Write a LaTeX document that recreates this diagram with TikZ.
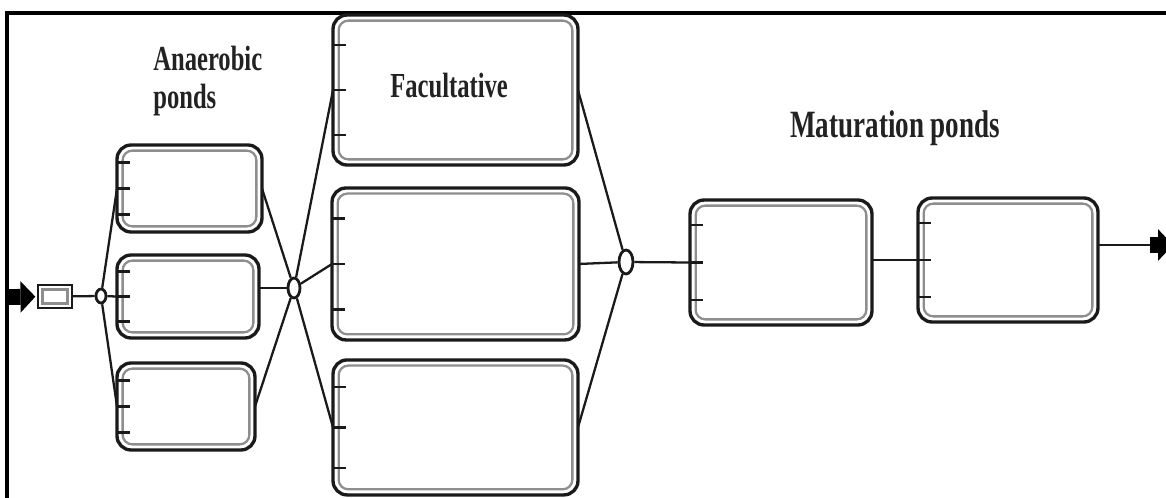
\documentclass[tikz,border=0pt]{standalone}
\usepackage{fontspec}
\setmainfont{Liberation Serif}
\newfontfamily\labelfont[FakeStretch=0.7]{Liberation Serif}
\usetikzlibrary{positioning, arrows.meta, calc, shapes.geometric}
\definecolor{pondBlack}{HTML}{1A1A1A}
\definecolor{pondGrey}{HTML}{8E8E8E}
\definecolor{labelBlack}{HTML}{222222}

\begin{document}
\begin{tikzpicture}[x=0.02cm, y=-0.02cm, node distance=0.46cm,
    pond/.style={draw=pondBlack, line width=1.9pt, rounded corners=8pt,
      inner sep=0pt, outer sep=0pt},
    pondin/.style={draw=pondGrey, line width=1.3pt, rounded corners=5.5pt},
    tickmark/.style={draw=pondBlack, line width=1.3pt},
    junction/.style={ellipse, draw=pondBlack, line width=1.6pt, fill=white, inner sep=0pt},
    pipe/.style={draw=pondBlack, line width=1.3pt},
    flow/.style={draw=black, line width=9pt,
      -{Triangle[length=8.5pt, width=18pt, line width=0pt]}},
    title/.style={font=\labelfont\bfseries\fontsize{20}{21.6}\selectfont,
      text=labelBlack, inner sep=0pt, align=left}]
    \useasboundingbox (0,0) rectangle (1166,497);
    \clip (0,0) rectangle (1166,497);
    \draw[line width=1.8pt] (1180,13) -| (7,510);

    % inlet screen and anaerobic ponds
    \node[draw=pondBlack, line width=1.6pt, minimum width=0.68cm, minimum height=0.46cm,
      inner sep=0pt, outer sep=0pt] (scr) at (55,296.5) {};
    \node[pond, minimum width=2.90cm, minimum height=1.74cm] (a1) at (189.5,188.5) {};
    \node[pond, minimum width=2.84cm, minimum height=1.66cm] (a2) at (188,296.5) {};
    \node[pond, minimum width=2.76cm, minimum height=1.74cm] (a3) at (186,406.5) {};

    % facultative ponds
    \node[pond, minimum width=4.90cm, minimum height=3.00cm] (f1) at (455.5,90) {};
    \node[pond, minimum width=4.94cm, minimum height=3.04cm, below=of f1] (f2) {};
    \node[pond, minimum width=4.90cm, minimum height=2.70cm, below=0.4cm of f2] (f3) {};

    % maturation ponds
    \node[pond, minimum width=3.64cm, minimum height=2.50cm] (m1) at (781,262.5) {};
    \node[pond, minimum width=3.60cm, minimum height=2.48cm] (m2) at (1008,260) {};

    \draw[pondin, rounded corners=0pt] ([shift={(2.6pt,-2.6pt)}]scr.north west) rectangle ([shift={(-2.6pt,2.6pt)}]scr.south east);
    \foreach \p in {a1,a2,a3,f1,f2,f3,m1,m2}{
      \draw[pondin] ([shift={(3.2pt,-3.2pt)}]\p.north west) rectangle ([shift={(-3.2pt,3.2pt)}]\p.south east);
      \foreach \f in {0.2,0.5,0.8}
        \draw[tickmark] ($(\p.north west)!\f!(\p.south west)$) -- ++(0.25cm,0);
    }

    \node[junction, minimum width=0.2cm, minimum height=0.28cm] (j1) at (101,296) {};
    \node[junction, minimum width=0.24cm, minimum height=0.4cm] (j2) at (294,288) {};
    \node[junction, minimum width=0.28cm, minimum height=0.48cm] (j3) at (626,262) {};

    % pipes
    \coordinate (in) at (8,297);
    \draw[flow, shorten >=1.5pt] (in) -- (scr);
    \draw[pipe] (scr) -- (j1);
    \foreach \p in {a1,a2,a3}
      \draw[pipe] (j1) -- (\p.west);
    \draw[pipe] (a1.east) -- (j2);
    \draw[pipe] (a2.east |- j2) -- (j2);
    \draw[pipe] (a3.east) -- (j2);
    \foreach \p in {f1,f2,f3}{
      \draw[pipe] (j2) -- (\p.west);
      \draw[pipe] (\p.east) -- (j3);
    }
    \draw[pipe] (j3) -- (m1.west);
    \draw[pipe] (m1.east |- m2.west) -- (m2.west);
    \coordinate (out) at (1150,245);
    \coordinate (outend) at (1173,245);
    \draw[pipe] (out -| m2.east) -- (out);
    \draw[flow] (out) -- (outend);

    % labels
    \node[title, anchor=base west] (anaerobic) at (153,108) {Anaerobic\\ponds};
    \node[title, anchor=base west] (facultative) at (390,97) {Facultative};
    \node[title, anchor=base west, font=\labelfont\bfseries\fontsize{22}{24}\selectfont]
      (maturation) at (790,137) {Maturation ponds};
\end{tikzpicture}
\end{document}
